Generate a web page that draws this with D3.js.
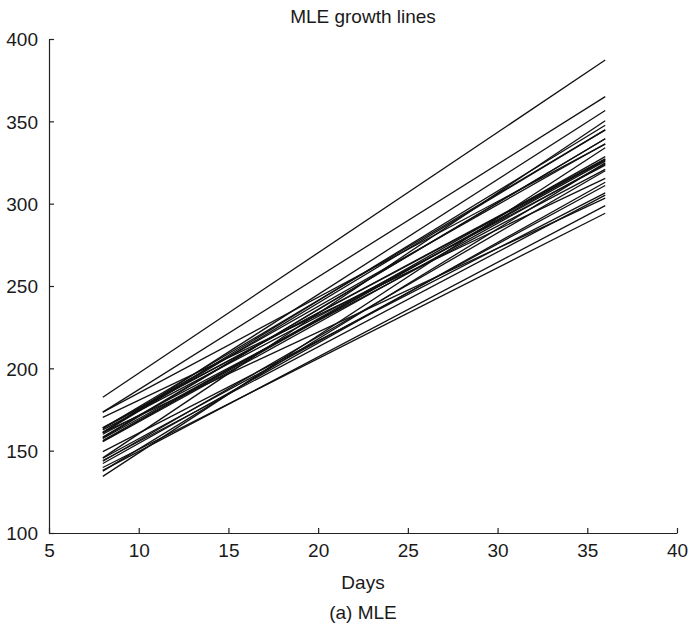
<!DOCTYPE html>
<html>
<head>
<meta charset="utf-8">
<script src="https://cdn.jsdelivr.net/npm/d3@7"></script>
<style>
  html, body { margin: 0; padding: 0; background: #fff; }
  svg text { font-family: "Liberation Sans", Arial, Helvetica, sans-serif; fill: #1a1a1a; }
</style>
</head>
<body>
<svg id="chart" width="691" height="629"></svg>
<script>
// Fitted growth line per rat: predicted weight at the first and last day.
const dayStart = 8;
const dayEnd = 36;
const weightAtStart = [
  155.4, 145.6, 160.8, 161.0, 137.6, 163.6, 145.4, 157.8, 182.4, 138.0,
  161.0, 142.2, 156.2, 173.4, 170.2, 163.6, 143.6, 160.0, 163.6, 157.4,
  158.2, 144.0, 149.4, 164.0, 134.4, 161.2, 173.4, 162.6, 139.8, 155.8
];
const weightAtEnd = [
  324.2, 350.4, 344.8, 303.4, 324.8, 336.4, 311.0, 339.4, 387.2, 298.8,
  356.6, 313.0, 328.6, 365.0, 315.4, 327.2, 320.0, 320.8, 344.8, 325.8,
  339.4, 305.2, 306.6, 326.4, 334.0, 347.6, 336.2, 323.4, 294.2, 327.0
];
const xTicks = [5, 10, 15, 20, 25, 30, 35, 40];
const yTicks = [100, 150, 200, 250, 300, 350, 400];

const svg = d3.select("#chart");
const plotLeft = 49, plotRight = 677, plotTop = 39, plotBottom = 533;

const x = d3.scaleLinear().domain([5, 40]).range([plotLeft, plotRight]);
const y = d3.scaleLinear().domain([100, 400]).range([plotBottom, plotTop]);

// growth lines
const rats = d3.range(weightAtStart.length).map(i => [
  [dayStart, weightAtStart[i]],
  [dayEnd, weightAtEnd[i]]
]);
const line = d3.line().x(d => x(d[0])).y(d => y(d[1]));
svg.append("g")
  .selectAll("path")
  .data(rats)
  .join("path")
  .attr("d", line)
  .attr("fill", "none")
  .attr("stroke", "#111")
  .attr("stroke-width", 1.3);

// axes with inward ticks
const xAxis = d3.axisBottom(x).tickValues(xTicks).tickSize(-5).tickPadding(11).tickSizeOuter(0);
const yAxis = d3.axisLeft(y).tickValues(yTicks).tickSize(-5).tickPadding(11).tickSizeOuter(0);

const gx = svg.append("g").attr("transform", `translate(0,${plotBottom})`).call(xAxis);
const gy = svg.append("g").attr("transform", `translate(${plotLeft},0)`).call(yAxis);
[gx, gy].forEach(g => {
  g.select(".domain").attr("stroke", "#222").attr("stroke-width", 1.2);
  g.selectAll(".tick line").attr("stroke", "#222").attr("stroke-width", 1.2);
  g.selectAll(".tick text").attr("font-size", 19).attr("font-family", null).attr("fill", "#1a1a1a");
});
gx.selectAll(".tick text").attr("dy", "0.71em");
gy.selectAll(".tick text").attr("dy", "0.36em");

// titles
const cx = (plotLeft + plotRight) / 2;
svg.append("text").attr("x", cx).attr("y", 23).attr("text-anchor", "middle")
  .attr("font-size", 19).text("MLE growth lines");
svg.append("text").attr("x", cx).attr("y", 589).attr("text-anchor", "middle")
  .attr("font-size", 19).text("Days");
svg.append("text").attr("x", cx).attr("y", 619).attr("text-anchor", "middle")
  .attr("font-size", 19).text("(a) MLE");
</script>
</body>
</html>
